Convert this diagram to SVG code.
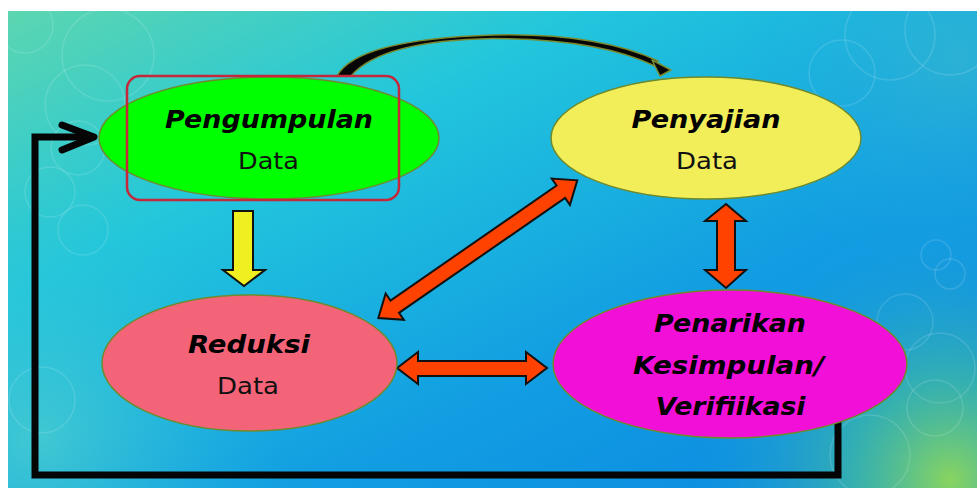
<svg xmlns="http://www.w3.org/2000/svg" width="977" height="488" viewBox="0 0 977 488">
<defs>
<linearGradient id="bg" x1="0" y1="0" x2="1" y2="1">
<stop offset="0" stop-color="#5cd6b0"/>
<stop offset="0.3" stop-color="#22c6dc"/>
<stop offset="0.65" stop-color="#129ee2"/>
<stop offset="1" stop-color="#0a86e0"/>
</linearGradient>
<radialGradient id="glowBR" cx="950" cy="480" r="260" gradientUnits="userSpaceOnUse">
<stop offset="0" stop-color="#90d858" stop-opacity="0.95"/>
<stop offset="0.4" stop-color="#50c890" stop-opacity="0.55"/>
<stop offset="1" stop-color="#20a0e0" stop-opacity="0"/>
</radialGradient>
<radialGradient id="glowBL" cx="40" cy="440" r="240" gradientUnits="userSpaceOnUse">
<stop offset="0" stop-color="#60d8c8" stop-opacity="0.55"/>
<stop offset="1" stop-color="#30c0d8" stop-opacity="0"/>
</radialGradient>
<radialGradient id="glowTR" cx="960" cy="60" r="220" gradientUnits="userSpaceOnUse">
<stop offset="0" stop-color="#40b8c8" stop-opacity="0.5"/>
<stop offset="1" stop-color="#20a8e0" stop-opacity="0"/>
</radialGradient>
<style>
.node{stroke:#6f8a2c;stroke-width:1.5}
.title{font-family:"DejaVu Sans",Verdana,sans-serif;font-weight:bold;font-style:italic;font-size:24px;fill:#000;text-anchor:middle}
.sub{font-family:"DejaVu Sans",Verdana,sans-serif;font-size:23px;fill:#111;text-anchor:middle}
.orange{fill:#ff4200;stroke:#111;stroke-width:2;stroke-linejoin:miter}
.bokeh{fill:none;stroke:#ffffff;stroke-opacity:0.13;stroke-width:1.5}
</style>
</defs>
<rect x="0" y="0" width="977" height="488" fill="#ffffff"/>
<g id="background">
<rect x="8" y="11" width="969" height="477" fill="url(#bg)"/>
<rect x="8" y="11" width="969" height="477" fill="url(#glowBR)"/>
<rect x="8" y="11" width="969" height="477" fill="url(#glowBL)"/>
<rect x="8" y="11" width="969" height="477" fill="url(#glowTR)"/>
<circle class="bokeh" cx="25" cy="25" r="28"/>
<circle class="bokeh" cx="108" cy="55" r="46"/>
<circle class="bokeh" cx="85" cy="105" r="40"/>
<circle class="bokeh" cx="78" cy="148" r="27"/>
<circle class="bokeh" cx="50" cy="192" r="25"/>
<circle class="bokeh" cx="83" cy="230" r="25"/>
<circle class="bokeh" cx="42" cy="400" r="33"/>
<circle class="bokeh" cx="890" cy="35" r="45"/>
<circle class="bokeh" cx="842" cy="73" r="33"/>
<circle class="bokeh" cx="950" cy="30" r="45"/>
<circle class="bokeh" cx="905" cy="322" r="28"/>
<circle class="bokeh" cx="940" cy="368" r="35"/>
<circle class="bokeh" cx="935" cy="408" r="28"/>
<circle class="bokeh" cx="870" cy="455" r="40"/>
<circle class="bokeh" cx="936" cy="255" r="15"/>
<circle class="bokeh" cx="950" cy="274" r="15"/>
</g>
<g id="connectors">
<path d="M838,421 L838,475 L35,475 L35,137 L92,137" fill="none" stroke="#050505" stroke-width="7" stroke-linejoin="miter" stroke-linecap="round"/>
<path d="M62,125 L94,137 L62,150" fill="none" stroke="#050505" stroke-width="7" stroke-linecap="round" stroke-linejoin="round"/>
<path d="M337,76 C 350,52 400,38 493,35 C 570,33 625,45 658,61 L 655,66 C 622,50 570,38.5 493,38.5 C 410,40 368,56 351,76 Z" fill="#050505" stroke="#7a8a30" stroke-width="1.5"/>
<polygon points="671,70 652,60 660,76" fill="#050505" stroke="#7a8a30" stroke-width="1.5" stroke-linejoin="round"/>
<polygon points="233,211 253,211 253,270 265,270 244,286 223,270 233,270" fill="#f0f020" stroke="#111" stroke-width="2"/>
<polygon class="orange" points="397,368 418,352 418,361 526,361 526,352 547,368 526,384 526,376 418,376 418,384"/>
<polygon class="orange" points="726,204 746,221 735,221 735,270 746,270 726,288 705,270 717,270 717,221 705,221"/>
<polygon class="orange" transform="translate(477.8,249.2) rotate(-34.7)" points="-121,0 -101,-16 -101,-7.5 101,-7.5 101,-16 121,0 101,16 101,7.5 -101,7.5 -101,16"/>
</g>
<g id="pengumpulan">
<ellipse class="node" cx="269" cy="138" rx="170" ry="61" fill="#00ff00"/>
<rect x="127" y="76" width="272" height="124" rx="13" fill="none" stroke="#c4283a" stroke-width="2.5"/>
<text class="title" x="269" y="128" textLength="208" lengthAdjust="spacingAndGlyphs">Pengumpulan</text>
<text class="sub" x="268.5" y="169" textLength="61" lengthAdjust="spacingAndGlyphs">Data</text>
</g>
<g id="penyajian">
<ellipse class="node" cx="706" cy="138" rx="155" ry="61" fill="#f2ee5a"/>
<text class="title" x="706" y="128" textLength="149" lengthAdjust="spacingAndGlyphs">Penyajian</text>
<text class="sub" x="707" y="169" textLength="62" lengthAdjust="spacingAndGlyphs">Data</text>
</g>
<g id="reduksi">
<ellipse class="node" cx="249.5" cy="363" rx="147.5" ry="68" fill="#f46478"/>
<text class="title" x="249" y="353" textLength="122" lengthAdjust="spacingAndGlyphs">Reduksi</text>
<text class="sub" x="248" y="394" textLength="62" lengthAdjust="spacingAndGlyphs">Data</text>
</g>
<g id="penarikan">
<ellipse class="node" cx="730" cy="364" rx="177" ry="74" fill="#f210d8"/>
<text class="title" x="730" y="332" textLength="152" lengthAdjust="spacingAndGlyphs">Penarikan</text>
<text class="title" x="728.5" y="374" textLength="191" lengthAdjust="spacingAndGlyphs">Kesimpulan/</text>
<text class="title" x="730.5" y="415" textLength="150" lengthAdjust="spacingAndGlyphs">Verifiikasi</text>
</g>
</svg>
